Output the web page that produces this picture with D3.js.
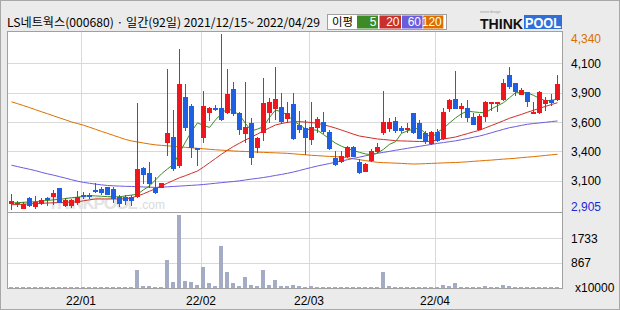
<!DOCTYPE html>
<html>
<head>
<meta charset="utf-8">
<script src="https://cdn.jsdelivr.net/npm/d3@7"></script>
<style>
  body { margin: 0; background: #fff; }
  svg { display: block; }
  text { font-family: "Liberation Sans", Arial, sans-serif; }
</style>
</head>
<body>
<svg id="chart" width="620" height="310"></svg>
<script>
// daily candles, index 0 = 2021/12/15 ... 91 = 2022/04/29
const opens = [
  2954, 2965, 2916, 3003, 2932, 2954, 3005, 3013, 3082, 2938,
  2935, 2960, 3025, 3025, 3068, 3074, 3090, 3074, 3013, 3013,
  3013, 3013, 3245, 3204, 3087, 3087, 3454, 3500, 3264, 3826,
  3753, 3408, 3490, 3693, 3734, 3734, 3698, 3889, 3693, 3525,
  3617, 3408, 3535, 3698, 3729, 3745, 3645, 3769, 3598, 3571,
  3476, 3571, 3620, 3543, 3331, 3299, 3340, 3416, 3294, 3217,
  3305, 3378, 3535, 3568, 3628, 3574, 3557, 3693, 3612, 3530,
  3441, 3541, 3486, 3731, 3813, 3731, 3734, 3663, 3560, 3666,
  3772, 3772, 3802, 4006, 3938, 3845, 3867, 3690, 3698, 3772,
  3802, 3804
];
const highs = [
  3035, 2978, 2973, 3010, 3019, 3000, 3015, 3068, 3085, 3000,
  2995, 3060, 3054, 3046, 3123, 3090, 3095, 3090, 3027, 3027,
  3027, 3780, 3256, 3296, 3177, 3125, 4057, 3718, 4220, 3930,
  3767, 3413, 3875, 3745, 3761, 4340, 4052, 3949, 3707, 3951,
  3653, 3503, 3984, 3821, 4073, 3857, 3788, 3857, 3715, 3639,
  3788, 3661, 3707, 3557, 3386, 3386, 3427, 3427, 3321, 3291,
  3402, 3449, 3875, 3653, 3661, 3592, 3612, 3698, 3639, 3552,
  3552, 3563, 3734, 3810, 4038, 3780, 3799, 3698, 3685, 3794,
  3788, 3786, 3971, 4073, 3943, 3900, 3870, 3788, 3875, 3829,
  3853, 4006
];
const lows = [
  2905, 2932, 2913, 2932, 2913, 2946, 2940, 2946, 2960, 2927,
  2920, 2946, 2997, 2997, 3041, 3025, 3025, 2960, 2932, 2942,
  2938, 3005, 3115, 3087, 3033, 3082, 3345, 3223, 3245, 3549,
  3331, 3264, 3454, 3631, 3713, 3631, 3690, 3669, 3517, 3454,
  3272, 3372, 3470, 3617, 3639, 3606, 3612, 3476, 3535, 3353,
  3435, 3530, 3525, 3394, 3264, 3286, 3331, 3335, 3199, 3215,
  3299, 3372, 3517, 3539, 3530, 3530, 3535, 3525, 3481, 3443,
  3433, 3462, 3476, 3704, 3726, 3653, 3623, 3596, 3555, 3625,
  3712, 3707, 3794, 3889, 3835, 3840, 3747, 3690, 3690, 3712,
  3751, 3794
];
const closes = [
  2978, 2954, 2954, 2938, 2973, 2989, 2990, 3041, 2965, 2987,
  2990, 3009, 3017, 3019, 3052, 3041, 3027, 2992, 2954, 2978,
  2981, 3242, 3190, 3115, 3046, 3123, 3535, 3242, 3935, 3576,
  3408, 3394, 3753, 3734, 3723, 3636, 3853, 3685, 3557, 3584,
  3331, 3490, 3780, 3788, 3810, 3623, 3693, 3484, 3557, 3495,
  3584, 3647, 3543, 3402, 3272, 3345, 3416, 3340, 3204, 3278,
  3386, 3416, 3620, 3620, 3549, 3549, 3574, 3530, 3486, 3462,
  3543, 3470, 3702, 3802, 3731, 3753, 3658, 3601, 3671, 3786,
  3786, 3786, 3940, 3910, 3867, 3881, 3788, 3704, 3867, 3802,
  3777, 3930
];
// volume in units of 10000 shares
const volumes = [
  40, 40, 40, 40, 40, 40, 40, 40, 40, 40,
  40, 40, 40, 40, 40, 40, 40, 40, 40, 40,
  40, 635, 80, 80, 40, 40, 980, 195, 2540, 250,
  220, 115, 715, 160, 80, 1470, 565, 160, 80, 370,
  115, 80, 635, 115, 290, 80, 80, 115, 80, 40,
  80, 40, 40, 40, 40, 40, 40, 40, 40, 40,
  40, 40, 545, 80, 40, 40, 40, 40, 40, 40,
  40, 40, 115, 80, 185, 40, 40, 40, 40, 80,
  40, 40, 115, 80, 40, 40, 40, 40, 40, 40,
  40, 40
];
// moving averages
const ma5 = [
  2962, 2965, 2968, 2970, 2973, 2978, 2983, 2988, 2992, 2998,
  3005, 3010, 3016, 3022, 3020, 3017, 3014, 3013, 3013, 3020,
  3027, 3033, 3070, 3101, 3150, 3200, 3240, 3278, 3370, 3460,
  3545, 3615, 3595, 3578, 3640, 3690, 3734, 3710, 3682, 3610,
  3550, 3565, 3584, 3660, 3720, 3705, 3680, 3630, 3600, 3565,
  3560, 3555, 3520, 3485, 3450, 3425, 3405, 3390, 3375, 3362,
  3355, 3370, 3400, 3440, 3462, 3530, 3550, 3565, 3572, 3530,
  3492, 3540, 3570, 3615, 3655, 3690, 3712, 3705, 3700, 3698,
  3730, 3755, 3780, 3820, 3861, 3862, 3860, 3840, 3815, 3795,
  3800, 3808
];
const ma20 = [
  2948, 2950, 2953, 2955, 2958, 2960, 2962, 2964, 2966, 2968,
  2970, 2972, 2980, 2988, 2995, 2995, 2995, 2995, 2995, 2996,
  3005, 3019, 3037, 3058, 3079, 3102, 3124, 3146, 3168, 3185,
  3204, 3223, 3255, 3290, 3325, 3360, 3393, 3423, 3450, 3476,
  3500, 3525, 3550, 3575, 3598, 3610, 3620, 3625, 3625, 3622,
  3618, 3612, 3600, 3587, 3573, 3557, 3540, 3523, 3508, 3500,
  3492, 3484, 3480, 3475, 3470, 3468, 3467, 3465, 3464, 3462,
  3468, 3476, 3484, 3492, 3500, 3514, 3528, 3542, 3555, 3575,
  3594, 3613, 3633, 3653, 3669, 3685, 3702, 3718, 3734, 3750,
  3765, 3780
];
const ma60 = [
  3270, 3259, 3248, 3237, 3226, 3212, 3200, 3189, 3177, 3165,
  3152, 3140, 3130, 3123, 3116, 3110, 3105, 3102, 3100, 3098,
  3097, 3095, 3093, 3091, 3089, 3091, 3094, 3097, 3100, 3103,
  3106, 3109, 3113, 3118, 3123, 3128, 3133, 3137, 3143, 3150,
  3157, 3163, 3170, 3178, 3187, 3195, 3204, 3215, 3227, 3240,
  3252, 3264, 3274, 3284, 3295, 3305, 3315, 3326, 3336, 3347,
  3357, 3367, 3375, 3383, 3392, 3400, 3408, 3416, 3424, 3432,
  3440, 3448, 3455, 3462, 3469, 3478, 3488, 3498, 3508, 3521,
  3535, 3549, 3563, 3576, 3585, 3595, 3604, 3610, 3615, 3620,
  3626, 3631
];
const ma120 = [
  3787, 3772, 3756, 3740, 3723, 3706, 3690, 3673, 3656, 3640,
  3623, 3610, 3596, 3580, 3563, 3546, 3530, 3513, 3497, 3480,
  3468, 3460, 3451, 3443, 3436, 3432, 3428, 3424, 3420, 3416,
  3412, 3408, 3404, 3400, 3396, 3393, 3390, 3386, 3384, 3382,
  3380, 3377, 3375, 3373, 3371, 3369, 3367, 3363, 3359, 3355,
  3351, 3348, 3345, 3342, 3340, 3337, 3330, 3322, 3315, 3308,
  3300, 3294, 3291, 3289, 3287, 3285, 3282, 3280, 3281, 3283,
  3285, 3287, 3289, 3291, 3292, 3295, 3298, 3302, 3305, 3309,
  3312, 3316, 3320, 3323, 3327, 3332, 3336, 3340, 3345, 3350,
  3355, 3359
];

const priceMax = 4340;
const priceMin = 2905;
const priceTickLabels = [4100, 3900, 3600, 3400, 3100];
const volTickLabels = [867, 1733];
const volMax = 2600;
const monthLabels = ['22/01', '22/02', '22/03', '22/04'];
const monthStartIdx = [12, 32, 50, 71];
const maPeriods = ['5', '20', '60', '120'];
const maColors = ['#3d8b27', '#c8302a', '#6a5cdc', '#dc6e00'];

const svg = d3.select('#chart');
const left = 7.5, right = 562.5, pTop = 31.5, pBot = 212.5, vBot = 288.5;

const x = d3.scaleLinear().domain([0, 91]).range([11.5, 557.5]);
const yPrice = d3.scaleLinear().domain([priceMin, priceMax]).range([210, 34]);
const yVol = d3.scaleLinear().domain([0, volMax]).range([288, 213]);
const fmt = d3.format(',');

// shrink a text until its natural width fits, then pin it to that width
function fitText(sel, width, size) {
  let fs = size;
  sel.attr('font-size', fs);
  while (sel.node().getComputedTextLength() > width && fs > 6) {
    fs -= 0.25;
    sel.attr('font-size', fs);
  }
  sel.attr('textLength', width).attr('lengthAdjust', 'spacingAndGlyphs');
}

// outer frame
svg.append('rect').attr('x', 0.5).attr('y', 0.5).attr('width', 619).attr('height', 309)
  .attr('fill', '#ebebeb').attr('stroke', '#a8a8a8');
svg.append('rect').attr('x', left).attr('y', pTop).attr('width', right - left).attr('height', vBot - pTop)
  .attr('fill', '#fff');

// grid
const grid = svg.append('g').attr('stroke', '#d9d9d9').attr('shape-rendering', 'crispEdges');
const gridVals = d3.range(1, 6).map(k => priceMax - k * (priceMax - priceMin) / 6);
gridVals.forEach(v => {
  const yy = Math.round(yPrice(v)) + 0.5;
  grid.append('line').attr('x1', left).attr('x2', right).attr('y1', yy).attr('y2', yy);
});
volTickLabels.forEach(v => {
  const yy = Math.round(yVol(v)) + 0.5;
  grid.append('line').attr('x1', left).attr('x2', right).attr('y1', yy).attr('y2', yy);
});
monthStartIdx.forEach(idx => {
  const xx = Math.round(x(idx - 0.5)) + 0.5;
  grid.append('line').attr('x1', xx).attr('x2', xx).attr('y1', pTop).attr('y2', vBot);
});

// watermark
svg.append('text').attr('x', 48).attr('y', 209).attr('font-size', 17).attr('font-weight', 'bold')
  .attr('fill', '#e3e3e3').attr('textLength', 90).text('THINKPOOL');
svg.append('text').attr('x', 139).attr('y', 209).attr('font-size', 12)
  .attr('fill', '#dadada').text('.com');

// moving average lines
const maSeries = [ma120, ma60, ma20, ma5];
const maCols = [maColors[3], maColors[2], maColors[1], maColors[0]];
const line = d3.line().x((d, i) => x(i)).y(d => yPrice(d));
maSeries.forEach((s, k) => {
  svg.append('path').datum(s).attr('d', line).attr('fill', 'none')
    .attr('stroke', maCols[k]).attr('stroke-width', 1);
});

// candles
const candles = svg.append('g').attr('shape-rendering', 'crispEdges');
opens.forEach((o, i) => {
  const c = closes[i];
  const col = c >= o ? '#f0161e' : '#1f5fe3';
  const xx = x(i);
  candles.append('line').attr('x1', xx).attr('x2', xx)
    .attr('y1', yPrice(highs[i])).attr('y2', yPrice(lows[i])).attr('stroke', col);
  const top = yPrice(Math.max(o, c));
  const h = Math.max(1.5, Math.abs(yPrice(o) - yPrice(c)));
  candles.append('rect').attr('x', xx - 2.5).attr('y', top).attr('width', 5).attr('height', h)
    .attr('fill', col);
});

// volume
svg.append('g').attr('shape-rendering', 'crispEdges').selectAll('rect').data(volumes).join('rect')
  .attr('x', (d, i) => x(i) - 2.5).attr('width', 4)
  .attr('y', d => yVol(d)).attr('height', d => yVol(0) - yVol(d))
  .attr('fill', '#a4abc4');

// panel borders
const borders = svg.append('g').attr('stroke', '#a0a0a0').attr('fill', 'none').attr('shape-rendering', 'crispEdges');
borders.append('rect').attr('x', left).attr('y', pTop).attr('width', right - left).attr('height', vBot - pTop);
borders.append('line').attr('x1', left).attr('x2', right).attr('y1', pBot).attr('y2', pBot);

// right price labels
const lab = svg.append('g').attr('font-size', 12);
lab.append('text').attr('x', 571).attr('y', yPrice(priceMax) + 8.5).attr('fill', '#dc6e00').text(fmt(priceMax));
gridVals.forEach((v, k) => {
  lab.append('text').attr('x', 571).attr('y', yPrice(v) + 4.5).attr('fill', '#000').text(fmt(priceTickLabels[k]));
});
lab.append('text').attr('x', 571).attr('y', yPrice(priceMin) + 1).attr('fill', '#1a2ad8').text(fmt(priceMin));
volTickLabels.slice().reverse().forEach(v => {
  lab.append('text').attr('x', 571).attr('y', yVol(v) + 4.5).attr('fill', '#000').text(v);
});
lab.append('text').attr('x', 575).attr('y', 291.5).attr('fill', '#000').text('x10000');

// month labels
const xAxis = d3.axisBottom(x)
  .tickValues(monthStartIdx.map(d => d - 0.5))
  .tickFormat((d, i) => monthLabels[i])
  .tickSize(0).tickPadding(0);
const ax = svg.append('g').attr('transform', 'translate(0,296)').call(xAxis);
ax.select('.domain').remove();
ax.selectAll('text').attr('font-size', 12).attr('font-family', '"Liberation Sans", Arial, sans-serif')
  .attr('fill', '#000').attr('dy', '0.71em');

// header
const title = svg.append('text').attr('x', 7).attr('y', 26.5)
  .style('font-family', '"Noto Sans CJK KR", sans-serif')
  .text('LS네트웍스(000680) · 일간(92일) 2021/12/15~ 2022/04/29');
fitText(title, 313, 13);

const leg = svg.append('g');
leg.append('rect').attr('x', 327.5).attr('y', 14.5).attr('width', 119).attr('height', 15)
  .attr('fill', '#fff').attr('stroke', '#a0a0a0');
const legTitle = leg.append('text').attr('x', 332).attr('y', 26)
  .style('font-family', '"Noto Sans CJK KR", sans-serif').text('이평');
fitText(legTitle, 21, 12);
const legBoxes = [[357, 21], [379.5, 21.5], [402, 20.5], [423.3, 20]];
maPeriods.forEach((p, k) => {
  leg.append('rect').attr('x', legBoxes[k][0]).attr('y', 15.5).attr('width', legBoxes[k][1]).attr('height', 13)
    .attr('fill', maColors[k]);
  leg.append('text').attr('x', legBoxes[k][0] + legBoxes[k][1] - 1.5).attr('y', 26.3)
    .attr('text-anchor', 'end').attr('font-size', 12).attr('fill', '#fff').text(p);
});

// logo
svg.append('text').attr('x', 480).attr('y', 12.5).attr('font-size', 3.5).attr('fill', '#999').text('invest design');
svg.append('text').attr('x', 480).attr('y', 28.5).attr('font-size', 15).attr('font-weight', 'bold')
  .attr('fill', '#111').attr('textLength', 43).attr('lengthAdjust', 'spacingAndGlyphs').text('THINK');
svg.append('rect').attr('x', 524).attr('y', 15).attr('width', 38).attr('height', 14).attr('fill', '#2f6fd8');
svg.append('text').attr('x', 525).attr('y', 28).attr('font-size', 14).attr('font-weight', 'bold')
  .attr('fill', '#fff').attr('textLength', 36).attr('lengthAdjust', 'spacingAndGlyphs').text('POOL');
</script>
</body>
</html>
